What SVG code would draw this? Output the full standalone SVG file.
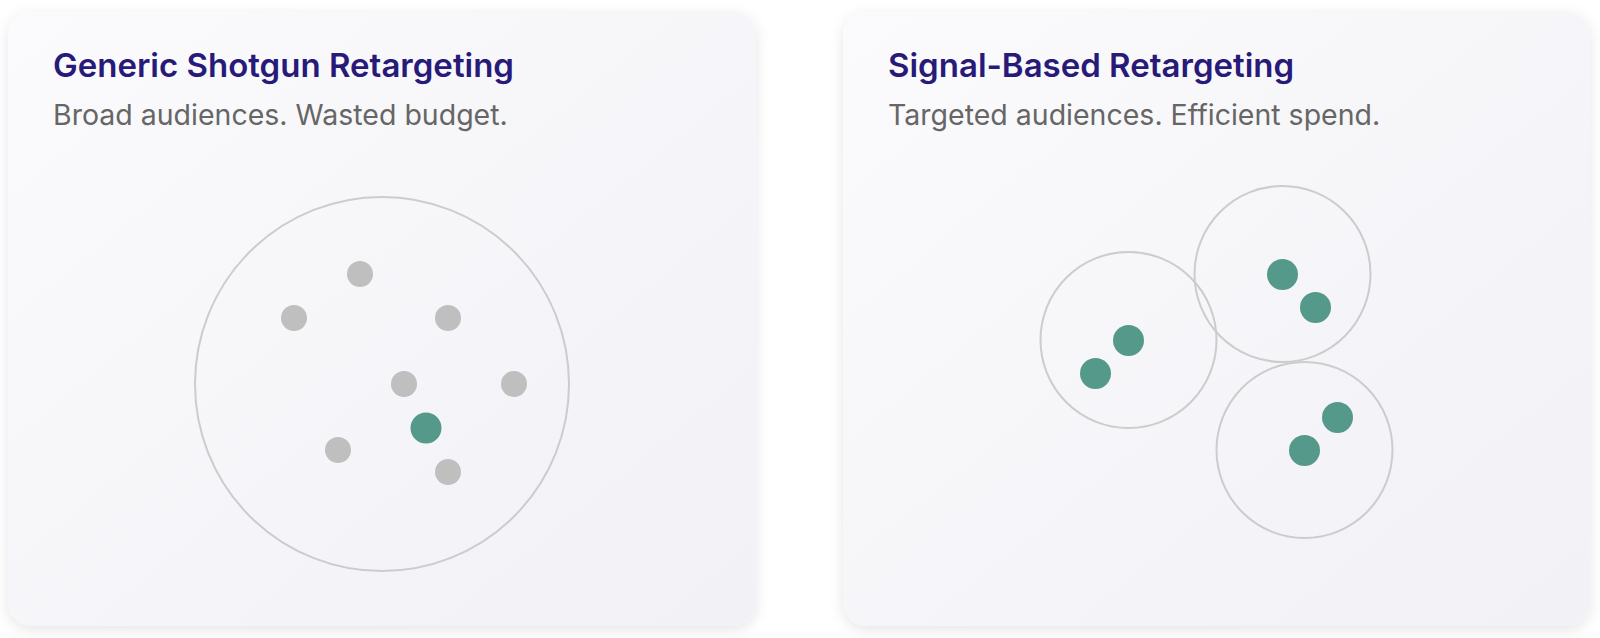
<svg xmlns="http://www.w3.org/2000/svg" width="1600" height="638" viewBox="0 0 1600 638">
  <defs>
    <linearGradient id="cardGrad" x1="0" y1="0" x2="1" y2="1">
      <stop offset="0" stop-color="#fbfbfd"/>
      <stop offset="1" stop-color="#f1f1f6"/>
    </linearGradient>
    <filter id="shadow" x="-10%" y="-10%" width="120%" height="125%">
      <feDropShadow dx="0" dy="4" stdDeviation="7" flood-color="#000" flood-opacity="0.10"/>
    </filter>
    <style>
      .card { fill: url(#cardGrad); filter: url(#shadow); }
      .title { font-family: Inter, "Liberation Sans", sans-serif; font-weight: 600; font-size: 33px; fill: #281a78; }
      .sub { font-family: Inter, "Liberation Sans", sans-serif; font-weight: 400; font-size: 28.5px; fill: #666666; }
      .ring { fill: none; stroke: #cccccc; stroke-width: 2; }
      .gray { fill: #bfbfbf; }
      .green { fill: #55998b; }
    </style>
  </defs>
  <rect width="1600" height="638" fill="#ffffff"/>

  <g id="card-generic">
    <rect class="card" x="8" y="11" width="748" height="615" rx="24" ry="24"/>
    <text class="title" x="53" y="77">Generic Shotgun Retargeting</text>
    <text class="sub" x="53" y="125">Broad audiences. Wasted budget.</text>
    <circle class="ring" cx="382" cy="384" r="187"/>
    <circle class="gray" cx="360" cy="274" r="13"/>
    <circle class="gray" cx="294" cy="318" r="13"/>
    <circle class="gray" cx="448" cy="318" r="13"/>
    <circle class="gray" cx="404" cy="384" r="13"/>
    <circle class="gray" cx="514" cy="384" r="13"/>
    <circle class="gray" cx="338" cy="450" r="13"/>
    <circle class="gray" cx="448" cy="472" r="13"/>
    <circle class="green" cx="426" cy="428" r="15.5"/>
  </g>

  <g id="card-signal">
    <rect class="card" x="843" y="11" width="747" height="615" rx="24" ry="24"/>
    <text class="title" x="888" y="77">Signal-Based Retargeting</text>
    <text class="sub" x="888" y="125">Targeted audiences. Efficient spend.</text>
    <circle class="ring" cx="1128.5" cy="340" r="88"/>
    <circle class="ring" cx="1282.5" cy="274" r="88"/>
    <circle class="ring" cx="1304.5" cy="450" r="88"/>
    <circle class="green" cx="1128.5" cy="340.5" r="15.5"/>
    <circle class="green" cx="1095.5" cy="373.5" r="15.5"/>
    <circle class="green" cx="1282.5" cy="274.5" r="15.5"/>
    <circle class="green" cx="1315.5" cy="307.5" r="15.5"/>
    <circle class="green" cx="1337.5" cy="417.5" r="15.5"/>
    <circle class="green" cx="1304.5" cy="450.5" r="15.5"/>
  </g>

  <g id="connectors"/>
</svg>
